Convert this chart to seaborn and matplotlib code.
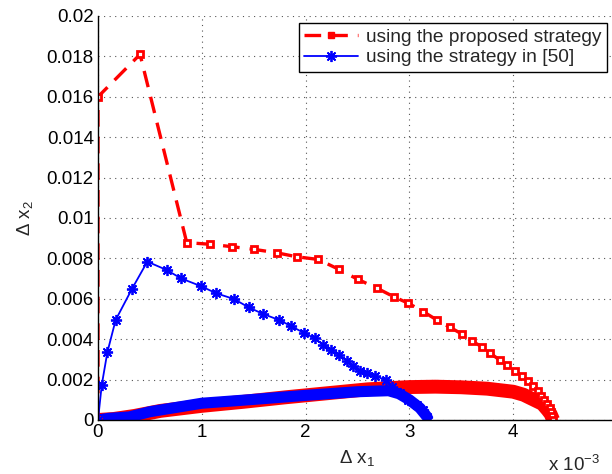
import matplotlib
matplotlib.use("Agg")
import matplotlib.pyplot as plt
import seaborn as sns
import pandas as pd
from matplotlib.lines import Line2D
from matplotlib.ticker import FixedLocator, FuncFormatter

# Trajectory of the proposed strategy (dx1 in units of 1e-3)
prop_dx1 = [0, 0, 0.405, 0.855, 1.08, 1.29, 1.50, 1.72, 1.915, 2.12, 2.32, 2.50,
            2.69, 2.85, 2.99, 3.135, 3.265, 3.39, 3.505, 3.60, 3.70, 3.78, 3.87,
            3.945, 4.02, 4.08, 4.14, 4.19, 4.235, 4.27, 4.30, 4.325, 4.35, 4.365,
            4.375, 4.385]
prop_dx2 = [0, 0.0160, 0.0181, 0.00878, 0.00870, 0.00858, 0.00845, 0.00828,
            0.00808, 0.00795, 0.00746, 0.00697, 0.00652, 0.00610, 0.00578,
            0.00536, 0.00495, 0.00459, 0.00426, 0.00390, 0.00363, 0.00330,
            0.00297, 0.00272, 0.00244, 0.00218, 0.00193, 0.00168, 0.00143,
            0.00120, 0.00100, 0.00080, 0.00060, 0.00040, 0.00020, 0.0]
# Return path of the proposed strategy back to the origin
prop_ret_dx1 = [4.385, 4.36, 4.33, 4.28, 4.20, 4.10, 4.00, 3.75, 3.50, 3.25, 3.00,
                2.60, 2.20, 1.80, 1.40, 1.00, 0.60, 0.35, 0.15, 0.0]
prop_ret_dx2 = [0.0, 0.0003, 0.0005, 0.0008, 0.0010, 0.00125, 0.0014, 0.00155,
                0.00162, 0.00165, 0.00163, 0.00152, 0.00132, 0.00112, 0.00090,
                0.00070, 0.00045, 0.00020, 0.00005, 0.0]

# Trajectory of the strategy in [50]
ref_dx1 = [0, 0.036, 0.09, 0.17, 0.325, 0.475, 0.66, 0.80, 0.99, 1.14, 1.31, 1.45,
           1.59, 1.745, 1.86, 1.98, 2.09, 2.17, 2.24, 2.32, 2.40, 2.46, 2.525,
           2.59, 2.67, 2.77, 2.83, 2.91, 2.99, 3.07, 3.135, 3.17]
ref_dx2 = [0, 0.00173, 0.00335, 0.00495, 0.00647, 0.00784, 0.00743, 0.00701,
           0.00663, 0.00627, 0.00599, 0.00558, 0.00525, 0.00495, 0.00465,
           0.00432, 0.00404, 0.00371, 0.00347, 0.00322, 0.00294, 0.00267,
           0.00244, 0.00231, 0.00218, 0.00198, 0.00165, 0.00132, 0.00099,
           0.00074, 0.00050, 0.00016]
ref_ret_dx1 = [3.17, 3.10, 3.00, 2.90, 2.80, 2.50, 2.00, 1.50, 1.00, 0.50, 0.30,
               0.10, 0.0]
ref_ret_dx2 = [0.00016, 0.0006, 0.0010, 0.0013, 0.00145, 0.00140, 0.00122,
               0.00102, 0.00083, 0.00041, 0.00015, 0.00008, 0.0]

x_ticks = [0, 1, 2, 3, 4, 5]
x_tick_labels = ["0", "1", "2", "3", "4", ""]
y_ticks = [0, 0.002, 0.004, 0.006, 0.008, 0.01, 0.012, 0.014, 0.016, 0.018, 0.02]
legend_labels = ["using the proposed strategy", "using the strategy in [50]"]

sns.set_theme(style="white")
plt.rcParams["font.family"] = ["Liberation Sans", "DejaVu Sans"]
plt.rcParams["mathtext.fontset"] = "custom"
plt.rcParams["mathtext.rm"] = "Liberation Sans"
plt.rcParams["mathtext.it"] = "Liberation Sans"

SCALE = 1e-3
FS = 13.5


def frame(xs, ys):
    return pd.DataFrame({"x": [v * SCALE for v in xs], "y": ys,
                         "i": range(len(xs))})


fig = plt.figure(figsize=(6.12, 4.74), dpi=100)
ax = fig.add_axes([98 / 612, 1 - 420 / 474, 519 / 612, 404 / 474])

red = "#ff0000"
blue = "#0000ff"
asterisk = (8, 2, 0)
dash = (0, (5, 3))

# Dense return paths form thick bands along the bottom
sns.lineplot(data=frame(prop_ret_dx1, prop_ret_dx2), x="x", y="y", sort=False,
             estimator=None, color=red, lw=10, ax=ax, solid_capstyle="butt")
sns.lineplot(data=frame(ref_ret_dx1, ref_ret_dx2), x="x", y="y", sort=False,
             estimator=None, color=blue, lw=8, ax=ax)

sns.lineplot(data=frame(prop_dx1, prop_dx2), x="x", y="y", sort=False,
             estimator=None, color=red, lw=2.4, ax=ax, marker="s",
             markersize=4.5, markerfacecolor="white", markeredgecolor=red,
             markeredgewidth=2.0, linestyle=dash)
sns.lineplot(data=frame(ref_dx1, ref_dx2), x="x", y="y", sort=False,
             estimator=None, color=blue, lw=1.3, ax=ax, marker=asterisk,
             markersize=8, markeredgecolor=blue, markerfacecolor=blue,
             markeredgewidth=1.3)

ax.set_xlim(0, 5 * SCALE)
ax.set_ylim(0, 0.02)
ax.xaxis.set_major_locator(FixedLocator([t * SCALE for t in x_ticks]))
ax.set_xticklabels(x_tick_labels)
ax.yaxis.set_major_locator(FixedLocator(y_ticks))
ax.yaxis.set_major_formatter(FuncFormatter(lambda v, p: f"{v:g}"))

ax.grid(True, color="#555555", linestyle=(0, (1, 4)), linewidth=0.8)
ax.tick_params(direction="in", length=5, width=0.8, labelsize=FS, colors="black",
               pad=3)
for side in ("top", "right"):
    ax.spines[side].set_visible(False)
for side in ("left", "bottom"):
    ax.spines[side].set_color("black")
    ax.spines[side].set_linewidth(1.0)

ax.set_xlabel(r"Δ x$_1$", fontsize=FS, labelpad=5)
ax.set_ylabel(r"Δ x$_2$", fontsize=FS, labelpad=8)
fig.text(548 / 612, 1 - 465 / 474, r"x 10$^{-3}$", fontsize=FS, va="center",
         ha="left")

handles = [
    Line2D([], [], color=red, lw=2.4, linestyle=dash, marker="s",
           markersize=5, markerfacecolor=red, markeredgecolor=red),
    Line2D([], [], color=blue, lw=1.3, marker=asterisk, markersize=8,
           markeredgewidth=1.3, markeredgecolor=blue),
]
leg = ax.legend(handles, legend_labels, loc="upper right",
                bbox_to_anchor=(509 / 519, 397 / 404), fontsize=13.8,
                frameon=True, fancybox=False, framealpha=1, edgecolor="black",
                borderpad=0.3, handlelength=2.8, handletextpad=0.4,
                labelspacing=0.15, borderaxespad=0)
leg.get_frame().set_linewidth(1.0)

fig.savefig("out.png", dpi=100)
